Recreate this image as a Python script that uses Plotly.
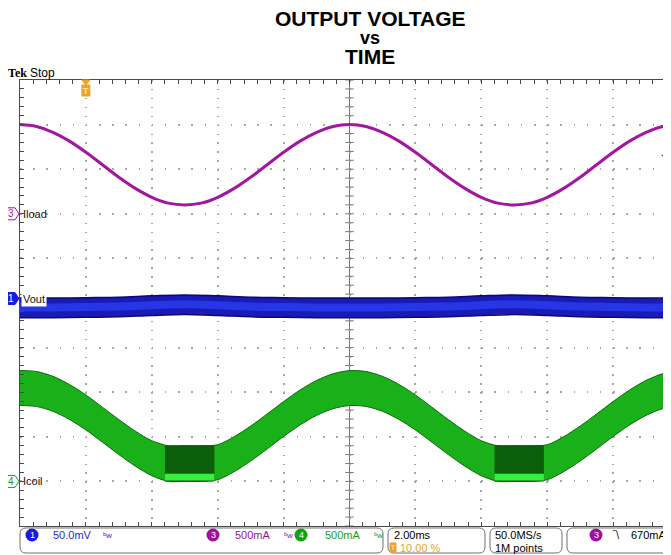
import plotly.graph_objects as go

# ---------------- data ----------------
title_lines = ["OUTPUT VOLTAGE", "vs", "TIME"]

# time samples in ms (trigger at 0 ms, 2 ms/div)
t_ms = [-2.0, -1.5, -1.0, -0.5, 0.0, 0.5, 1.0, 1.5, 2.0, 2.5, 3.0, 3.5, 4.0, 4.5, 5.0, 5.5,
        6.0, 6.5, 7.0, 7.5, 8.0, 8.5, 9.0, 9.5, 10.0, 10.5, 11.0, 11.5, 12.0, 12.5, 13.0,
        13.5, 14.0, 14.5, 15.0, 15.5, 16.0, 16.5, 17.0, 17.5, 18.0]

# CH3 load current (mA)
iload_mA = [1000, 978, 914, 815, 690, 550, 410, 285, 185, 120, 100, 120, 185, 285, 410, 550,
            690, 815, 914, 978, 1000, 978, 914, 815, 690, 550, 410, 285, 185, 120, 100,
            120, 185, 285, 410, 550, 690, 815, 914, 978, 1000]

# CH4 coil current envelope (mA): upper and lower edge of the ripple band
icoil_hi_mA = [1243, 1232, 1178, 1087, 969, 832, 693, 563, 456, 400, 400, 400, 411, 501, 620, 756,
               895, 1025, 1132, 1207, 1242, 1232, 1178, 1087, 969, 832, 693, 563, 456, 400, 400,
               400, 411, 501, 620, 756, 895, 1025, 1132, 1207, 1240]
icoil_lo_mA = [851, 840, 786, 695, 577, 440, 301, 171, 64, 0, 0, 0, 19, 109, 228, 364,
               503, 633, 740, 815, 850, 840, 786, 695, 577, 440, 301, 171, 64, 0, 0,
               0, 19, 109, 228, 364, 503, 633, 740, 815, 848]

# discontinuous-conduction windows of the coil current
dcm_start_ms = [2.4, 12.4]
dcm_end_ms = [3.9, 13.9]
dcm_peak_mA = [405, 405]
dcm_strip_hi_mA = [85, 85]
dcm_strip_lo_mA = [10, 10]

# CH1 output voltage noise band (mV relative to channel marker)
t_vout_ms = [-2, -1, 0, 1, 2, 3, 4, 5, 6, 7, 8, 9, 10, 11, 12, 13, 14, 15, 16, 17, 18]
vout_hi_mV = [0.5, 0.5, 1.0, 1.5, 3.0, 4.0, 3.0, 1.5, 1.0, 0.5, 0.5, 0.5, 1.0, 1.5, 3.0, 4.0,
              3.0, 1.5, 1.0, 0.5, 0.5]
vout_lo_mV = [-21.5, -21.5, -21.0, -20.5, -19.0, -18.0, -19.0, -20.5, -21.0, -21.5, -21.5,
              -21.5, -21.0, -20.5, -19.0, -18.0, -19.0, -20.5, -21.0, -21.5, -21.5]
vout_core_hi_mV = [-5.5, -5.5, -5.0, -4.5, -3.0, -2.0, -3.0, -4.5, -5.0, -5.5, -5.5,
                   -5.5, -5.0, -4.5, -3.0, -2.0, -3.0, -4.5, -5.0, -5.5, -5.5]
vout_core_lo_mV = [-14.5, -14.5, -14.0, -13.5, -12.0, -11.0, -12.0, -13.5, -14.0, -14.5, -14.5,
                   -14.5, -14.0, -13.5, -12.0, -11.0, -12.0, -13.5, -14.0, -14.5, -14.5]

ch_names = ["Iload", "Vout", "Icoil"]
ch_nums = ["3", "1", "4"]
ch1_scale_txt = "50.0mV"
ch3_scale_txt = "500mA"
ch4_scale_txt = "500mA"
timebase_txt = "2.00ms"
trigpos_txt = "10.00 %"
rate_txt = "50.0MS/s"
record_txt = "1M points"
triglevel_txt = "670mA"
trig_level_mA = 670

# scope settings
ms_per_div = 2.0
ch3_per_div, ch3_pos = 500, 2.0
ch1_per_div, ch1_pos = 50, 0.1
ch4_per_div, ch4_pos = 500, -4.0

# ---------------- layout constants (page pixels; page has an 8px body margin) ----------------
OFF = 8
W, H = 671, 555
ML, MT, MR, MB = 12, 72, 0, 37
PW, PH = W - ML - MR, H - MT - MB
x0_ms = -ms_per_div
x1_ms = x0_ms + 10 * ms_per_div

PURPLE = "#A3169F"
BLUE = "#1A1AB4"
GREEN = "#19B019"
ORANGE = "#EFA227"
SANS = "Liberation Sans, Arial, sans-serif"


def chan_range(per_div, pos):
    return [(-5 - pos) * per_div, (5 - pos) * per_div]


def pxx(x):
    return (x - OFF - ML) / PW


def pxy(y):
    return (MT + PH - (y - OFF)) / PH


def gnd_px(rng):
    return OFF + MT + PH - (0 - rng[0]) / (rng[1] - rng[0]) * PH


r3 = chan_range(ch3_per_div, ch3_pos)
r1 = chan_range(ch1_per_div, ch1_pos)
r4 = chan_range(ch4_per_div, ch4_pos)
trig_px = OFF + ML + (0 - x0_ms) / (x1_ms - x0_ms) * PW
center_ms = x0_ms + 5 * ms_per_div

fig = go.Figure()

# centre cross tick marks
vt = [k * 0.2 for k in range(-25, 26)]
fig.add_trace(go.Scatter(x=[center_ms] * len(vt), y=vt, mode="markers", hoverinfo="skip",
                         marker=dict(symbol="line-ew", size=6, line=dict(width=1, color="#777"))))
ht = [x0_ms + k * 0.4 for k in range(0, 51)]
fig.add_trace(go.Scatter(x=ht, y=[0] * len(ht), mode="markers", hoverinfo="skip",
                         marker=dict(symbol="line-ns", size=6, line=dict(width=1, color="#777"))))

# CH3 Iload
fig.add_trace(go.Scatter(x=t_ms, y=iload_mA, yaxis="y2", mode="lines", hoverinfo="skip",
                         line=dict(color=PURPLE, width=3, shape="spline")))

# CH1 Vout band
fig.add_trace(go.Scatter(x=t_vout_ms, y=vout_lo_mV, yaxis="y3", mode="lines", hoverinfo="skip",
                         line=dict(color="#0A0A70", width=1.5, shape="spline")))
fig.add_trace(go.Scatter(x=t_vout_ms, y=vout_hi_mV, yaxis="y3", mode="lines", hoverinfo="skip",
                         fill="tonexty", fillcolor=BLUE,
                         line=dict(color="#0A0A70", width=1.5, shape="spline")))
fig.add_trace(go.Scatter(x=t_vout_ms, y=vout_core_lo_mV, yaxis="y3", mode="lines", hoverinfo="skip",
                         line=dict(width=0, shape="spline")))
fig.add_trace(go.Scatter(x=t_vout_ms, y=vout_core_hi_mV, yaxis="y3", mode="lines", hoverinfo="skip",
                         fill="tonexty", fillcolor="#2636E6",
                         line=dict(width=0, shape="spline")))

# CH4 Icoil band
fig.add_trace(go.Scatter(x=t_ms, y=icoil_lo_mA, yaxis="y4", mode="lines", hoverinfo="skip",
                         line=dict(color="#0B6A0B", width=1, shape="spline", smoothing=0.8)))
fig.add_trace(go.Scatter(x=t_ms, y=icoil_hi_mA, yaxis="y4", mode="lines", hoverinfo="skip",
                         fill="tonexty", fillcolor=GREEN,
                         line=dict(color="#0B6A0B", width=1, shape="spline", smoothing=0.8)))
for s, e, pk, sh, sl in zip(dcm_start_ms, dcm_end_ms, dcm_peak_mA, dcm_strip_hi_mA, dcm_strip_lo_mA):
    fig.add_trace(go.Scatter(x=[s, s, e, e, s], y=[0, pk, pk, 0, 0], yaxis="y4", mode="lines",
                             hoverinfo="skip", fill="toself", fillcolor="#0B5F0B",
                             line=dict(width=0)))
    fig.add_trace(go.Scatter(x=[s, s, e, e, s], y=[sl, sh, sh, sl, sl], yaxis="y4", mode="lines",
                             hoverinfo="skip", fill="toself", fillcolor="#3CEE3C",
                             line=dict(width=0)))

anns = []
shapes = []


def txt(x, y, text, size=11, color="black", family=SANS, xanchor="left", yanchor="middle", **kw):
    anns.append(dict(x=pxx(x), y=pxy(y), xref="paper", yref="paper", text=text, showarrow=False,
                     font=dict(size=size, color=color, family=family), xanchor=xanchor,
                     yanchor=yanchor, **kw))


def path_px(pts, fill, line, lw=1):
    d = "M " + " L ".join(f"{pxx(a):.5f},{pxy(b):.5f}" for a, b in pts) + " Z"
    shapes.append(dict(type="path", path=d, xref="paper", yref="paper", fillcolor=fill,
                       line=dict(color=line, width=lw), layer="above"))


def rrect(xa, ya, xb, yb, r, color="#707070"):
    def P(a, b):
        return f"{pxx(a):.5f},{pxy(b):.5f}"
    d = (f"M {P(xa + r, ya)} L {P(xb - r, ya)} Q {P(xb, ya)} {P(xb, ya + r)} "
         f"L {P(xb, yb - r)} Q {P(xb, yb)} {P(xb - r, yb)} L {P(xa + r, yb)} "
         f"Q {P(xa, yb)} {P(xa, yb - r)} L {P(xa, ya + r)} Q {P(xa, ya)} {P(xa + r, ya)} Z")
    shapes.append(dict(type="path", path=d, xref="paper", yref="paper",
                       line=dict(color=color, width=1)))


def circ(cx, cy, r, color, label, fcolor="white"):
    shapes.append(dict(type="circle", xref="paper", yref="paper", x0=pxx(cx - r), x1=pxx(cx + r),
                       y0=pxy(cy + r), y1=pxy(cy - r), fillcolor=color, line=dict(width=0)))
    txt(cx, cy, label, size=9, color=fcolor, xanchor="center")


# title
txt(370, 18, "<b>%s</b>" % title_lines[0], size=21, xanchor="center")
txt(370, 38, "<b>%s</b>" % title_lines[1], size=18, xanchor="center")
txt(370, 57, "<b>%s</b>" % title_lines[2], size=21, xanchor="center")

# Tek Stop
txt(7, 73, "<b>Tek</b>", size=12, family="Liberation Serif, serif", borderpad=0)
txt(29, 73, "Stop", size=12, borderpad=0)

# trigger position marker
path_px([(trig_px - 4, 80), (trig_px + 4, 80), (trig_px, 85)], ORANGE, ORANGE)
path_px([(trig_px - 4, 85), (trig_px + 4, 85), (trig_px + 4, 96), (trig_px - 4, 96)], ORANGE, ORANGE)
txt(trig_px, 90.5, "<b>T</b>", size=9, color="#FFE7B0", xanchor="center")

# channel ground markers and labels
for name, num, rng, col, solid in zip(ch_names, ch_nums, [r3, r1, r4], [PURPLE, "#1A1AE6", "#1A9A1A"],
                                      [False, True, False]):
    g = gnd_px(rng)
    path_px([(6, g - 6), (15, g - 6), (19, g), (15, g + 6), (6, g + 6)],
            col if solid else "white", col)
    txt(11, g, num, size=10, color="white" if solid else col, xanchor="center")
    txt(21, g, name, size=11, color="#111", bgcolor="white" if solid else None, borderpad=1)

# trigger level marker at right edge
anns.append(dict(x=pxx(671), y=trig_level_mA, xref="paper", yref="y2", text="◀", showarrow=False,
                 font=dict(size=10, color=PURPLE), xanchor="right", yanchor="middle"))

# status bar
rrect(20, 528, 383, 553, 6)
rrect(388, 528, 485, 553, 6)
rrect(490, 528, 562, 553, 6)
rrect(567, 528, 690, 553, 6)
circ(32, 535, 6.5, "#1A1AE6", ch_nums[1])
txt(51, 535, ch1_scale_txt, size=11, color="#2A2AD8")
txt(101, 535, "ᵇw", size=8, color="#2A2AD8")
circ(213, 535, 6.5, "#A0109F", ch_nums[0])
txt(233, 535, ch3_scale_txt, size=11, color="#A0109F")
txt(282, 535, "ᵇw", size=8, color="#A0109F")
circ(301, 535, 6.5, "#13A013", ch_nums[2])
txt(323, 535, ch4_scale_txt, size=11, color="#13A013")
txt(372, 535, "ᵇw", size=8, color="#13A013")
txt(392, 535, timebase_txt, size=11)
path_px([(390, 543), (396, 543), (396, 552), (390, 552)], ORANGE, ORANGE)
txt(393, 547.5, "T", size=7, color="white", xanchor="center")
txt(398, 547.5, trigpos_txt, size=11, color=ORANGE)
txt(493, 535, rate_txt, size=11)
txt(493, 547.5, record_txt, size=11)
circ(596, 535, 6.5, "#A0109F", ch_nums[0])
txt(610, 535, "‾\\", size=10)
txt(629, 535, triglevel_txt, size=11)

fig.update_layout(
    width=W, height=H, margin=dict(l=ML, r=MR, t=MT, b=MB, pad=0),
    paper_bgcolor="white", plot_bgcolor="white", showlegend=False,
    xaxis=dict(range=[x0_ms, x1_ms], showline=True, linecolor="#4a4a4a", linewidth=1,
               mirror="allticks", ticks="inside", ticklen=4, tickcolor="#4a4a4a",
               tick0=0, dtick=ms_per_div, showticklabels=False, zeroline=False,
               showgrid=True, gridcolor="#a8a8a8", gridwidth=1.5, griddash="1.5px,7.42px",
               minor=dict(dtick=ms_per_div / 5, tick0=0, ticks="inside", ticklen=4,
                          tickcolor="#4a4a4a", showgrid=False),
               fixedrange=True),
    yaxis=dict(range=[-5, 5], showline=True, linecolor="#4a4a4a", linewidth=1, mirror=False,
               ticks="inside", ticklen=4, tickcolor="#4a4a4a", dtick=1, tick0=0,
               showticklabels=False, zeroline=False, showgrid=True, gridcolor="#a8a8a8",
               gridwidth=1.5, griddash="1.5px,11.68px",
               minor=dict(dtick=0.2, tick0=0, ticks="inside", ticklen=4, tickcolor="#4a4a4a",
                          showgrid=False),
               fixedrange=True),
    yaxis2=dict(range=r3, overlaying="y", visible=False, fixedrange=True),
    yaxis3=dict(range=r1, overlaying="y", visible=False, fixedrange=True),
    yaxis4=dict(range=r4, overlaying="y", visible=False, fixedrange=True),
    annotations=anns,
    shapes=shapes + [
        dict(type="line", xref="x", yref="paper", x0=center_ms, x1=center_ms, y0=0, y1=1,
             line=dict(color="#777", width=1), layer="below"),
        dict(type="line", xref="paper", yref="y", x0=0, x1=1, y0=0, y1=0,
             line=dict(color="#777", width=1), layer="below"),
    ],
)

fig.write_html("out.html")
